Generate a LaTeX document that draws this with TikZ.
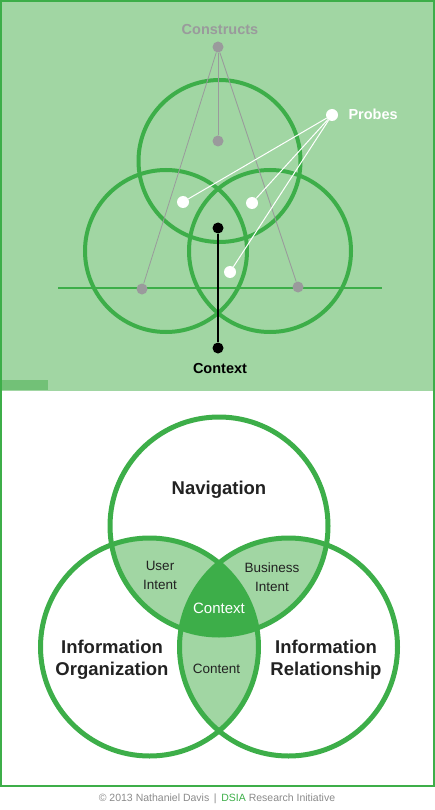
\documentclass[tikz,border=0pt]{standalone}
\usepackage{fontspec}
\setmainfont{Liberation Sans}
\definecolor{vgreen}{HTML}{3DAE49}
\definecolor{vlight}{HTML}{A1D6A3}
\definecolor{vtab}{HTML}{72C177}
\definecolor{vgray}{HTML}{9A9A9C}
\definecolor{vfoot}{HTML}{8A8A8A}
\definecolor{vtext}{HTML}{222222}

\tikzstyle{ring}=[draw=vgreen,line width=4pt]
\tikzstyle{bigring}=[draw=vgreen,line width=5pt]
\tikzstyle{construct}=[circle,fill=vgray,inner sep=0pt,minimum size=11pt]
\tikzstyle{probe}=[circle,fill=white,inner sep=0pt,minimum size=12pt]
\tikzstyle{pin}=[circle,fill=black,inner sep=0pt,minimum size=11pt]
\tikzstyle{toplabel}=[font=\bfseries\fontsize{14.5}{17}\selectfont,anchor=base]
\tikzstyle{title}=[font=\bfseries\fontsize{18.5}{22}\selectfont,align=center,text=vtext,anchor=base]
\tikzstyle{region}=[font=\fontsize{13.5}{18.5}\selectfont,align=center,text=vtext,anchor=base]

\begin{document}
\begin{tikzpicture}[x=1pt,y=-1pt]
   \useasboundingbox (0,0) rectangle (435,810);

   % top panel
   \fill[vlight] (0,0) rectangle (435,391);
   \fill[vtab] (0,380) rectangle (48,390);
   \draw[vgreen,line width=2pt] (0,786) -- (1,786) -- (1,1) -- (434,1) -- (434,786) -- (435,786);
   \draw[vgreen,line width=2pt] (0,786) -- (435,786);

   \coordinate (ta) at (219.5,161);
   \coordinate (tl) at (166,251);
   \coordinate (tr) at (270,251);
   \draw[ring] (ta) circle (81pt);
   \draw[ring] (tl) circle (81pt);
   \draw[ring] (tr) circle (81pt);

   \coordinate (hl) at (58,288);
   \coordinate (hr) at (382,288);
   \draw[vgreen,line width=1.3pt] (hl) -- (hr);

   \node[construct] (capex) at (218,47) {};
   \node[construct] (cmid) at (218,141) {};
   \node[construct] (cleft) at (142,289) {};
   \node[construct] (cright) at (298,287) {};
   \node[toplabel,text=vgray] (constructs) at (220,35) {Constructs};
   \draw[vgray,line width=0.8pt] (capex) -- (cmid);
   \draw[vgray,line width=0.8pt] (capex) -- (cleft);
   \draw[vgray,line width=0.8pt] (capex) -- (cright);

   \node[probe] (phub) at (332,115) {};
   \node[probe] (p1) at (183,202) {};
   \node[probe] (p2) at (252,203) {};
   \node[probe] (p3) at (230,272) {};
   \node[toplabel,text=white,anchor=base west] (probes) at (345,120) {Probes};
   \draw[white,line width=1pt] (phub) -- (p1);
   \draw[white,line width=1pt] (phub) -- (p2);
   \draw[white,line width=1pt] (phub) -- (p3);

   \node[pin] (ctop) at (218,228) {};
   \node[pin] (cbot) at (218,348) {};
   \draw[black,line width=1.2pt] (ctop) -- (cbot);
   \node[toplabel,text=black] (context) at (220,373) {Context};

   % bottom panel
   \coordinate (nav) at (219,526);
   \coordinate (org) at (149.5,647);
   \coordinate (rel) at (288.5,647);
   \begin{scope}
      \clip (nav) circle (109pt);
      \fill[vlight] (org) circle (109pt);
      \fill[vlight] (rel) circle (109pt);
   \end{scope}
   \begin{scope}
      \clip (org) circle (109pt);
      \fill[vlight] (rel) circle (109pt);
   \end{scope}
   \begin{scope}
      \clip (nav) circle (109pt);
      \clip (org) circle (109pt);
      \fill[vgreen] (rel) circle (109pt);
   \end{scope}
   \draw[bigring] (nav) circle (109pt);
   \draw[bigring] (org) circle (109pt);
   \draw[bigring] (rel) circle (109pt);

   \node[title] (navlabel) at (219,494) {Navigation};
   \node[title] (orglabel) at (112,675) {Information\\Organization};
   \node[title] (rellabel) at (326,675) {Information\\Relationship};
   \node[region] (user) at (160,589) {User\\Intent};
   \node[region] (business) at (272,591) {Business\\Intent};
   \node[region] (content) at (216.5,673) {Content};
   \node[font=\fontsize{15}{18}\selectfont,text=white,anchor=base] (ctx) at (219,613) {Context};

   \node[font=\fontsize{10.5}{12}\selectfont,text=vfoot,anchor=base] (credit) at (217,801)
      {\textcopyright{} 2013 Nathaniel Davis \,|\, {\color{vgreen}DSIA} Research Initiative};

\end{tikzpicture}
\end{document}
